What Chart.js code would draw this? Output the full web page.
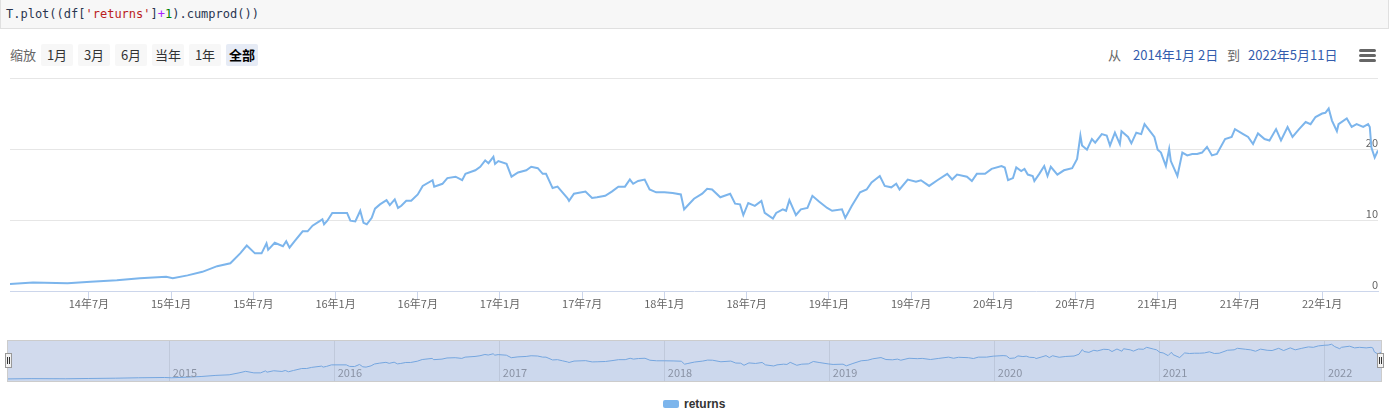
<!DOCTYPE html>
<html>
<head>
<meta charset="utf-8">
<script src="https://cdn.jsdelivr.net/npm/chart.js@4.4.1/dist/chart.umd.min.js"></script>
<style>
  body { margin: 0; width: 1389px; height: 412px; overflow: hidden; position: relative; background: #fff;
         font-family: "Noto Sans CJK SC", "Noto Sans", sans-serif; }
  .abs { position: absolute; }
  .code { left: 0; top: 0; width: 1389px; height: 29px; box-sizing: border-box; background: #f7f7f7;
          border: 1px solid #e0e0e0; border-top: none; padding-left: 5px;
          font: 12px "DejaVu Sans Mono", monospace; line-height: 29px; color: #2a3550; white-space: pre; }
  .code .s { color: #ba2121; } .code .o { color: #aa22ff; } .code .n { color: #008000; }
  .lbl { top: 44px; height: 22px; line-height: 22px; font-size: 13px; color: #666; }
  .btn { top: 44px; width: 32px; height: 22px; line-height: 22px; text-align: center; font-size: 13px;
         color: #333; background: #f7f7f7; border-radius: 2px; }
  .btn.on { background: #e6ebf5; color: #000; font-weight: bold; }
  .date { color: #335cad; }
  .bar { left: 1359px; width: 17px; height: 3px; background: #666; border-radius: 2px; }
  .handle { top: 353px; width: 7px; height: 15px; background: #f2f2f2; border: 1px solid #999; box-sizing: border-box; }
  .handle::before, .handle::after { content: ""; position: absolute; top: 3px; width: 1px; height: 7px; background: #333; }
  .handle::before { left: 1px; } .handle::after { left: 3px; }
  .legend { left: 684px; top: 396px; font: bold 12px "Liberation Sans", Arial, sans-serif; line-height: 16px; color: #333; }
</style>
</head>
<body>
<div class="abs code">T.plot((df[<span class="s">'returns'</span>]<span class="o">+</span><span class="n">1</span>).cumprod())</div>

<div class="abs lbl" style="left:10px">缩放</div>
<div class="abs btn" style="left:41px">1月</div>
<div class="abs btn" style="left:78px">3月</div>
<div class="abs btn" style="left:115px">6月</div>
<div class="abs btn" style="left:152px">当年</div>
<div class="abs btn" style="left:189px">1年</div>
<div class="abs btn on" style="left:226px">全部</div>

<div class="abs lbl" style="left:1108px">从</div>
<div class="abs lbl date" style="left:1133px">2014年1月 2日</div>
<div class="abs lbl" style="left:1227px">到</div>
<div class="abs lbl date" style="left:1248px">2022年5月11日</div>
<div class="abs bar" style="top:49px"></div>
<div class="abs bar" style="top:54px"></div>
<div class="abs bar" style="top:59px"></div>

<canvas id="main" class="abs" style="left:0;top:70px" width="1389" height="251"></canvas>

<div class="abs" style="left:7px;top:340px;width:1375px;height:42px;border:1px solid #cccccc;box-sizing:border-box"></div>
<canvas id="nav" class="abs" style="left:8px;top:341px;background:#d1daed" width="1373" height="40"></canvas>
<div class="abs handle" style="left:5px"></div>
<div class="abs handle" style="left:1377px"></div>

<div class="abs" style="left:663px;top:400px;width:16px;height:8px;background:#7cb5ec;border-radius:2px"></div>
<div class="abs legend">returns</div>

<script>
// dates as decimal years
const dates = [
  2014.02, 2014.16, 2014.37, 2014.51, 2014.67, 2014.81, 2014.97, 2015.01, 2015.10, 2015.19,
  2015.28, 2015.36, 2015.42, 2015.46, 2015.51, 2015.55, 2015.58, 2015.59, 2015.63, 2015.68,
  2015.70, 2015.72, 2015.75, 2015.80, 2015.83, 2015.86, 2015.92, 2015.93, 2015.95, 2015.98,
  2016.07, 2016.09, 2016.12, 2016.15, 2016.17, 2016.19, 2016.22, 2016.24, 2016.27, 2016.31,
  2016.33, 2016.36, 2016.38, 2016.40, 2016.43, 2016.46, 2016.50, 2016.53, 2016.59, 2016.60,
  2016.65, 2016.68, 2016.73, 2016.77, 2016.79, 2016.85, 2016.88, 2016.91, 2016.93, 2016.96,
  2016.97, 2016.99, 2017.04, 2017.07, 2017.11, 2017.16, 2017.19, 2017.23, 2017.26, 2017.28,
  2017.32, 2017.35, 2017.38, 2017.41, 2017.42, 2017.45, 2017.52, 2017.56, 2017.59, 2017.64,
  2017.68, 2017.72, 2017.76, 2017.79, 2017.81, 2017.84, 2017.88, 2017.91, 2017.95, 2018.00,
  2018.05, 2018.10, 2018.12, 2018.14, 2018.18, 2018.23, 2018.26, 2018.29, 2018.34, 2018.40,
  2018.43, 2018.46, 2018.48, 2018.51, 2018.55, 2018.59, 2018.61, 2018.66, 2018.68, 2018.72,
  2018.74, 2018.76, 2018.80, 2018.83, 2018.87, 2018.90, 2018.94, 2018.99, 2019.02, 2019.08,
  2019.10, 2019.14, 2019.19, 2019.23, 2019.26, 2019.31, 2019.34, 2019.38, 2019.41, 2019.43,
  2019.48, 2019.53, 2019.56, 2019.61, 2019.66, 2019.72, 2019.75, 2019.78, 2019.84, 2019.87,
  2019.90, 2019.95, 2019.99, 2020.05, 2020.07, 2020.09, 2020.12, 2020.14, 2020.17, 2020.19,
  2020.21, 2020.24, 2020.25, 2020.28, 2020.31, 2020.33, 2020.35, 2020.39, 2020.43, 2020.48,
  2020.51, 2020.53, 2020.54, 2020.57, 2020.60, 2020.62, 2020.66, 2020.69, 2020.71, 2020.74,
  2020.77, 2020.78, 2020.82, 2020.84, 2020.87, 2020.90, 2020.92, 2020.96, 2020.98, 2021.00,
  2021.02, 2021.05, 2021.07, 2021.08, 2021.12, 2021.15, 2021.18, 2021.21, 2021.24, 2021.27,
  2021.30, 2021.33, 2021.36, 2021.41, 2021.45, 2021.47, 2021.52, 2021.55, 2021.58, 2021.61,
  2021.65, 2021.68, 2021.72, 2021.75, 2021.79, 2021.82, 2021.86, 2021.90, 2021.93, 2021.96,
  2022.00, 2022.02, 2022.04, 2022.06, 2022.09, 2022.10, 2022.15, 2022.18, 2022.21, 2022.25,
  2022.28, 2022.29, 2022.30, 2022.32, 2022.34
];
const returns = [
  1.0, 1.2, 1.1, 1.3, 1.5, 1.8, 2.0, 1.8, 2.2, 2.7,
  3.5, 3.9, 5.3, 6.4, 5.3, 5.3, 6.7, 5.8, 6.8, 6.3,
  7.0, 6.1, 7.0, 8.4, 8.4, 9.2, 10.1, 9.4, 9.9, 11.0,
  11.0, 9.9, 9.8, 11.3, 9.6, 9.4, 10.3, 11.6, 12.2, 12.8,
  12.1, 12.9, 11.7, 12.0, 12.7, 12.7, 13.6, 14.8, 15.6, 14.7,
  15.1, 15.9, 16.1, 15.6, 16.5, 17.0, 17.5, 18.4, 18.0, 18.9,
  17.9, 18.3, 17.9, 16.1, 16.7, 17.0, 17.5, 17.3, 16.5, 16.5,
  14.5, 14.7, 13.9, 13.1, 12.7, 13.7, 14.0, 13.1, 13.2, 13.4,
  14.0, 14.7, 14.7, 15.7, 15.1, 15.5, 15.7, 14.3, 13.9, 13.9,
  13.8, 13.6, 11.5, 12.0, 13.0, 13.7, 14.4, 14.3, 13.2, 13.7,
  12.3, 12.2, 10.7, 12.4, 12.0, 12.7, 11.0, 10.2, 11.0, 11.5,
  11.3, 12.8, 10.7, 11.5, 11.7, 13.4, 12.6, 11.7, 11.3, 11.5,
  10.3, 12.0, 13.9, 14.3, 15.3, 16.2, 14.8, 14.6, 15.1, 14.3,
  15.7, 15.4, 15.6, 14.8, 15.6, 16.5, 15.7, 16.4, 16.1, 15.5,
  16.5, 16.5, 17.2, 17.6, 17.4, 15.6, 15.9, 17.4, 16.9, 17.2,
  16.4, 16.2, 15.5, 16.5, 17.6, 16.2, 17.5, 16.4, 17.0, 17.3,
  18.6, 21.9, 20.5, 19.9, 21.4, 20.9, 22.1, 21.9, 20.5, 22.3,
  20.7, 22.5, 21.7, 20.8, 22.3, 22.1, 23.5, 22.3, 21.7, 19.9,
  19.5, 17.6, 20.0, 18.3, 16.2, 19.5, 19.1, 19.3, 19.3, 19.5,
  20.3, 19.1, 19.3, 21.4, 21.7, 22.8, 22.1, 21.7, 20.7, 22.2,
  21.4, 21.2, 22.8, 21.2, 23.1, 21.7, 22.8, 23.8, 23.5, 24.5,
  25.0, 25.1, 25.7, 24.0, 22.5, 23.5, 24.3, 23.1, 23.5, 23.1,
  23.5, 23.1, 20.2, 18.8, 19.8
];
const xTickValues = [2014.5, 2015, 2015.5, 2016, 2016.5, 2017, 2017.5, 2018, 2018.5,
                     2019, 2019.5, 2020, 2020.5, 2021, 2021.5, 2022];
const xTickLabels = ['14年7月', '15年1月', '15年7月', '16年1月', '16年7月', '17年1月', '17年7月', '18年1月', '18年7月',
                     '19年1月', '19年7月', '20年1月', '20年7月', '21年1月', '21年7月', '22年1月'];
const yTickValues = [0, 10, 20, 30];
const navYears = [2015, 2016, 2017, 2018, 2019, 2020, 2021, 2022];

const points = dates.map((d, i) => ({ x: d, y: returns[i] }));
const xMin = dates[0];
const xMax = dates[dates.length - 1];

Chart.defaults.font.family = '"Noto Sans CJK SC", "Noto Sans", sans-serif';

new Chart(document.getElementById('main'), {
    type: 'line',
    data: {
        datasets: [{
            label: 'returns',
            data: points,
            borderColor: '#7cb5ec',
            borderWidth: 2,
            pointRadius: 0,
            tension: 0,
            fill: false
        }]
    },
    options: {
        responsive: false,
        animation: false,
        layout: { padding: { left: 10, right: 11, top: 8, bottom: 0 } },
        plugins: { legend: { display: false }, tooltip: { enabled: false } },
        scales: {
            x: {
                type: 'linear',
                min: xMin,
                max: xMax,
                afterBuildTicks: s => { s.ticks = xTickValues.map(v => ({ value: v })); },
                afterFit: s => { s.height = 30; },
                grid: { drawOnChartArea: false, color: '#ccd6eb', tickLength: 9 },
                border: { color: '#ccd6eb' },
                ticks: {
                    color: '#666666', font: { size: 11 }, padding: -3,
                    maxRotation: 0, autoSkip: false,
                    callback: (v, i) => xTickLabels[i]
                }
            },
            y: {
                position: 'right',
                min: 0,
                max: 30,
                afterBuildTicks: s => { s.ticks = yTickValues.map(v => ({ value: v })); },
                afterFit: s => { s.width = 0; },
                grid: {
                    drawTicks: false,
                    color: c => (c.tick && c.tick.value === 0) ? 'rgba(0,0,0,0)' : '#e6e6e6'
                },
                border: { display: false },
                ticks: {
                    mirror: true, padding: 0, labelOffset: -6,
                    color: '#666666', font: { size: 11 },
                    callback: v => (v === 30 ? '' : v)
                }
            }
        }
    }
});

// year labels inside the navigator, placed with its x scale
const navLabels = {
    id: 'navLabels',
    afterDraw(chart) {
        const ctx = chart.ctx;
        const sx = chart.scales.x;
        ctx.save();
        ctx.font = '11px "Noto Sans CJK SC", "Noto Sans", sans-serif';
        ctx.fillStyle = '#8a93a5';
        ctx.textAlign = 'left';
        ctx.textBaseline = 'alphabetic';
        navYears.forEach(y => {
            ctx.fillText(String(y), sx.getPixelForValue(y) + 3, chart.chartArea.bottom - 4);
        });
        ctx.restore();
    }
};

new Chart(document.getElementById('nav'), {
    type: 'line',
    data: {
        datasets: [{
            data: points,
            borderColor: '#75a6df',
            borderWidth: 1,
            pointRadius: 0,
            tension: 0,
            fill: 'start',
            backgroundColor: 'rgba(124,181,236,0.05)'
        }]
    },
    options: {
        responsive: false,
        animation: false,
        layout: { padding: 0 },
        plugins: { legend: { display: false }, tooltip: { enabled: false } },
        scales: {
            x: {
                type: 'linear',
                min: xMin,
                max: xMax,
                afterBuildTicks: s => { s.ticks = navYears.map(v => ({ value: v })); },
                afterFit: s => { s.height = 0; },
                grid: { color: '#c0c9db', drawTicks: false },
                border: { display: false },
                ticks: { display: false }
            },
            y: { display: false, min: -0.5, max: 28 }
        }
    },
    plugins: [navLabels]
});
</script>
</body>
</html>
